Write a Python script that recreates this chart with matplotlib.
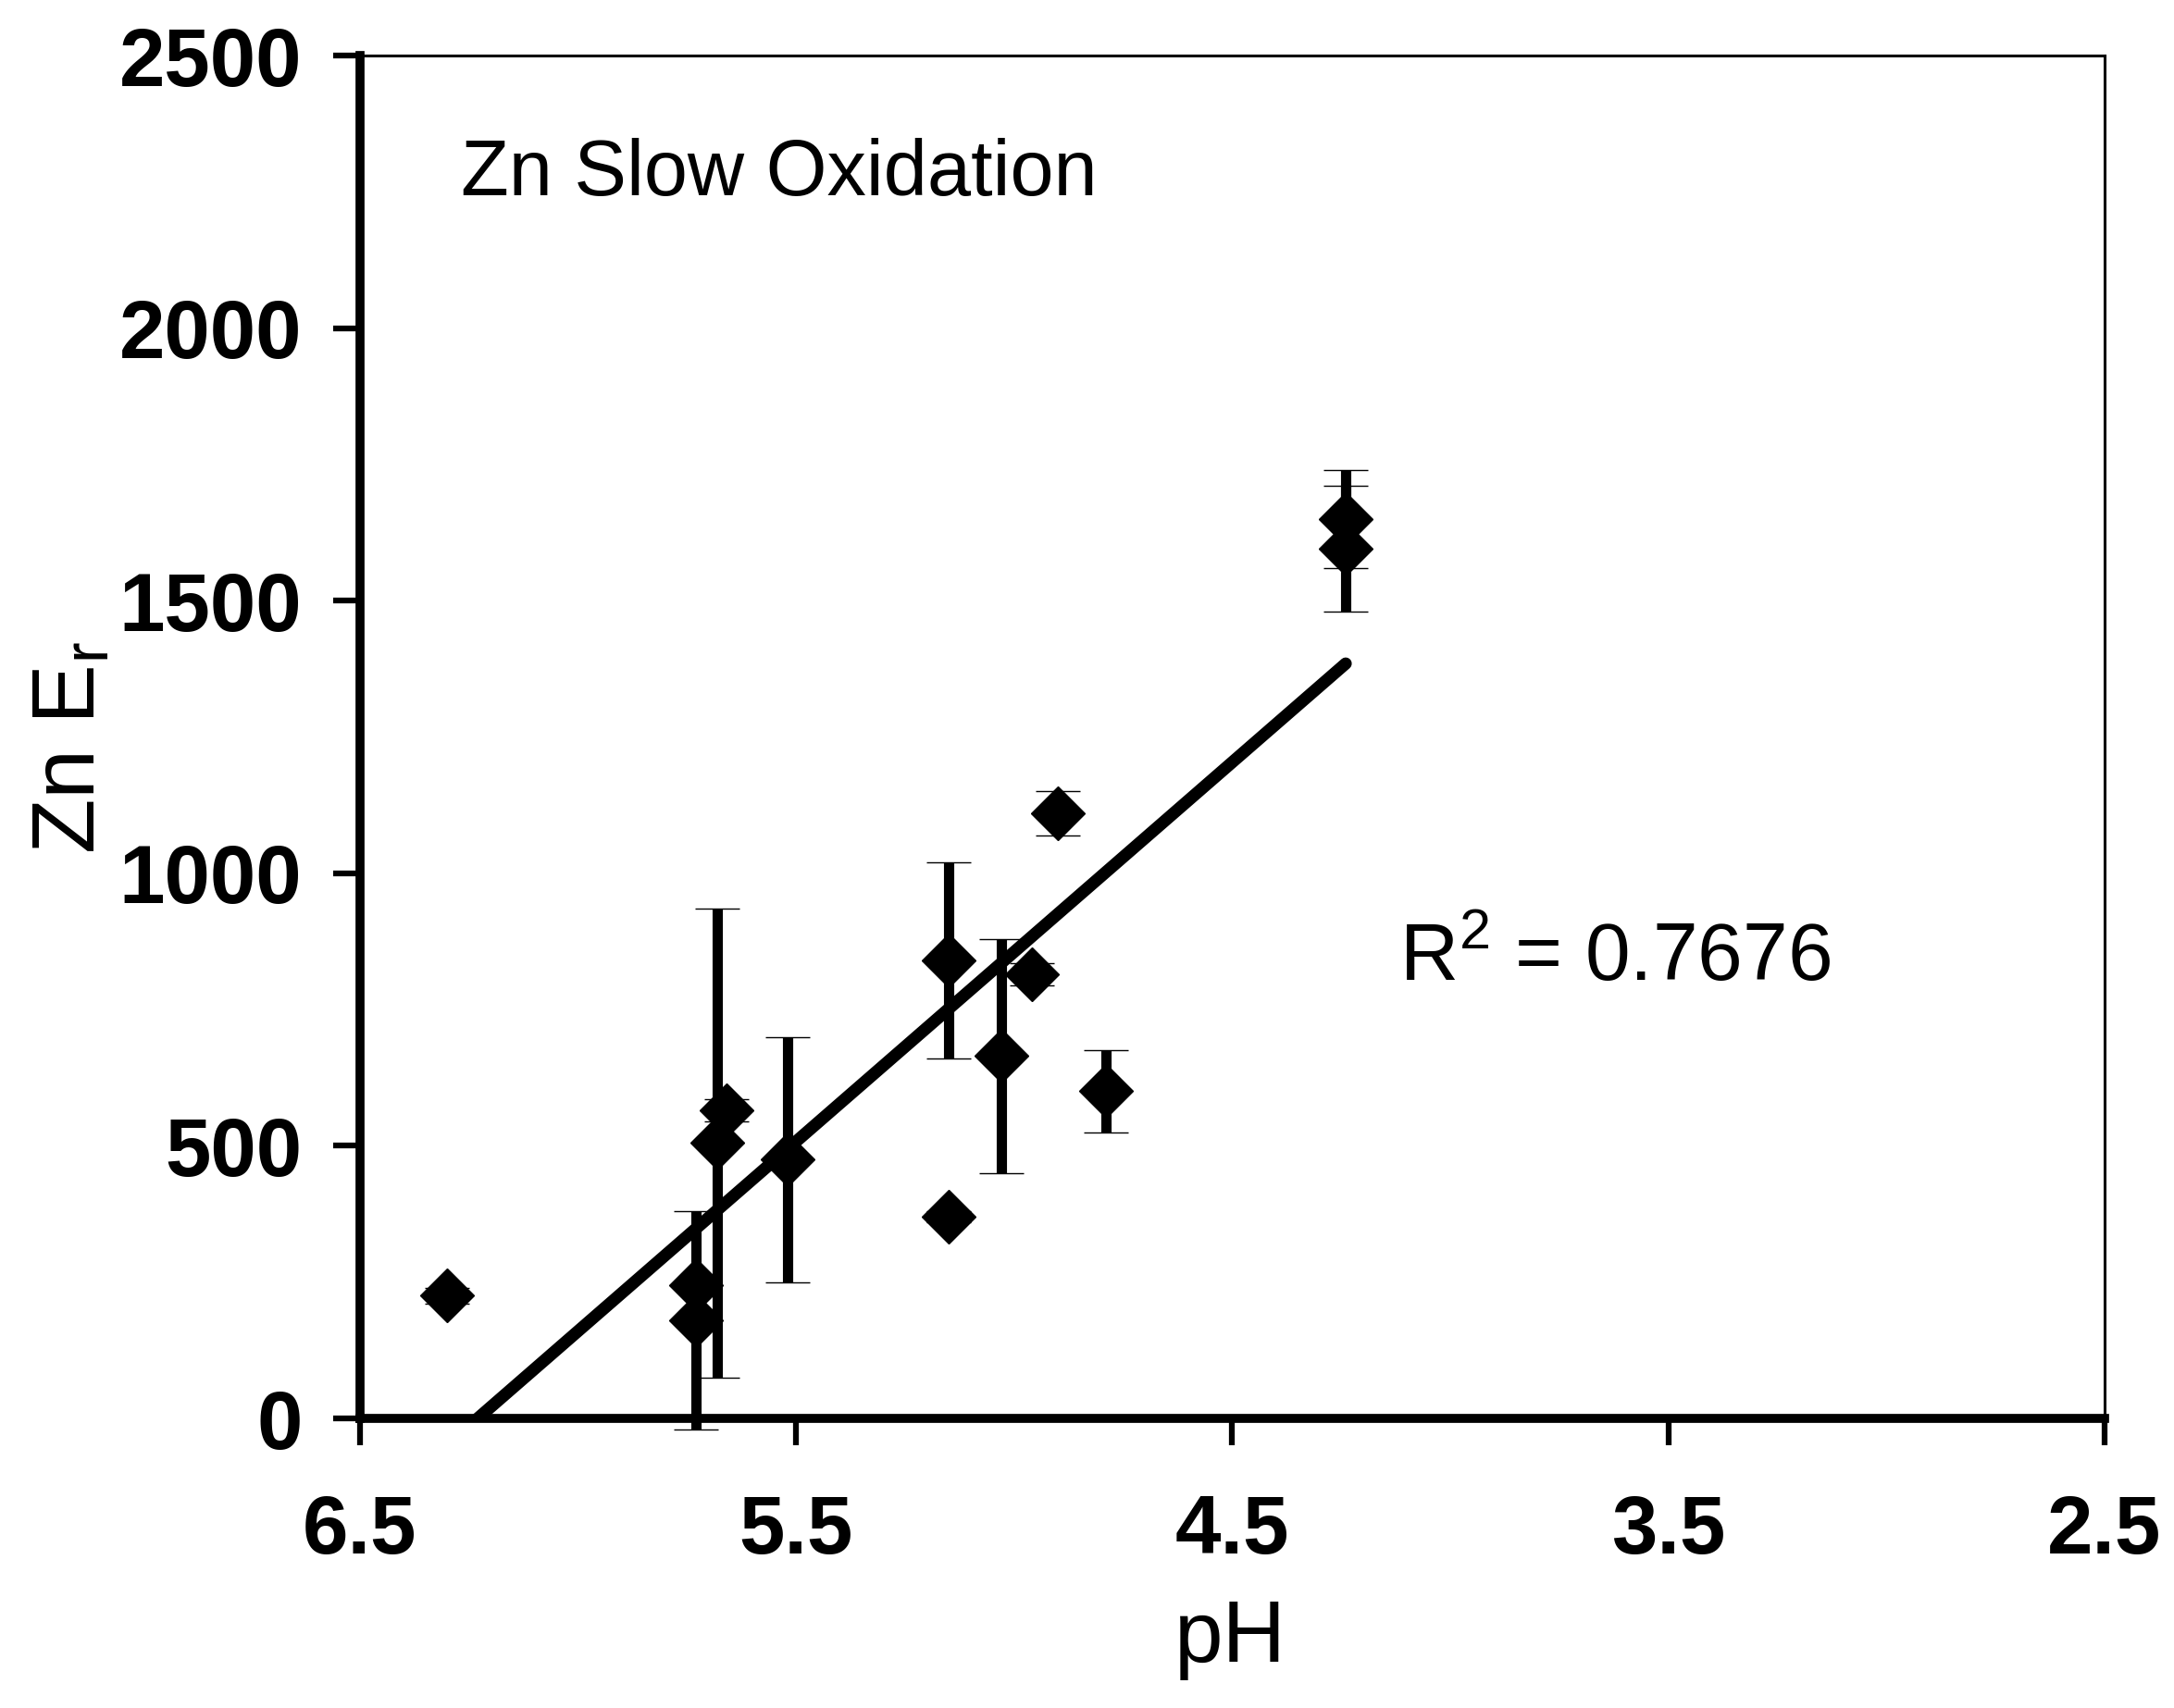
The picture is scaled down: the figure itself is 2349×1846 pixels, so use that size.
import numpy as np
import matplotlib
matplotlib.use("Agg")
import matplotlib.pyplot as plt

plt.rcParams['font.family'] = ['Liberation Sans', 'DejaVu Sans']
plt.rcParams['mathtext.fontset'] = 'custom'
plt.rcParams['mathtext.rm'] = 'Liberation Sans'

# data
ph = [6.30, 5.73, 5.73, 5.68, 5.66, 5.52, 5.15, 5.15, 5.03, 4.96, 4.90, 4.79, 4.24, 4.24]
zn_er = [225, 180, 245, 505, 565, 475, 840, 370, 665, 815, 1110, 600, 1650, 1595]
zn_err = [15, 200, 0, 430, 20, 225, 180, 10, 215, 20, 40, 75, 90, 115]

x_ticks = [6.5, 5.5, 4.5, 3.5, 2.5]
y_ticks = [0, 500, 1000, 1500, 2000, 2500]

fig = plt.figure(figsize=(23.49, 18.46), dpi=100)
ax = fig.add_axes([0.1656, 0.16955, 0.80247, 0.79794])

# linear trendline (Excel style) over the data range
x = np.array(ph)
y = np.array(zn_er)
slope, icpt = np.polyfit(x, y, 1)
xl = np.array([x.max(), x.min()])
ax.plot(xl, slope * xl + icpt, color='black', lw=9.5, solid_capstyle='round', zorder=2)

ax.errorbar(ph, zn_er, yerr=zn_err, fmt='D', color='black', ms=30, mew=1,
            elinewidth=8, capsize=17, capthick=9, zorder=3, clip_on=False)

ax.set_xlim(6.5, 2.5)
ax.set_ylim(0, 2500)
ax.set_xticks(x_ticks)
ax.set_xticklabels([str(v) for v in x_ticks])
ax.set_yticks(y_ticks)
ax.set_yticklabels([str(v) for v in y_ticks])

for s in ['left', 'bottom']:
    ax.spines[s].set_linewidth(7)
for s in ['top', 'right']:
    ax.spines[s].set_linewidth(2.2)
ax.tick_params(axis='x', direction='out', length=21, width=4.5, pad=37, labelsize=64)
ax.tick_params(axis='y', direction='out', length=21, width=4.5, pad=24, labelsize=64)
for lab in ax.get_xticklabels() + ax.get_yticklabels():
    lab.set_fontweight('bold')

ax.text(0.058, 0.8975, 'Zn Slow Oxidation', transform=ax.transAxes,
        fontsize=61, va='baseline', ha='left')
ax.text(0.596, 0.321, 'R$^\\mathregular{2}$ = %.4f' % 0.7676, transform=ax.transAxes,
        fontsize=63, va='baseline', ha='left')

fig.text(0.566, 0.027, 'pH', fontsize=68, ha='center', va='baseline')
fig.text(0.0434, 0.562, 'Zn E$_\\mathregular{r}$', fontsize=70, rotation=90,
         rotation_mode='anchor', ha='center', va='baseline')

fig.savefig('out.png', dpi=100, facecolor='white')
